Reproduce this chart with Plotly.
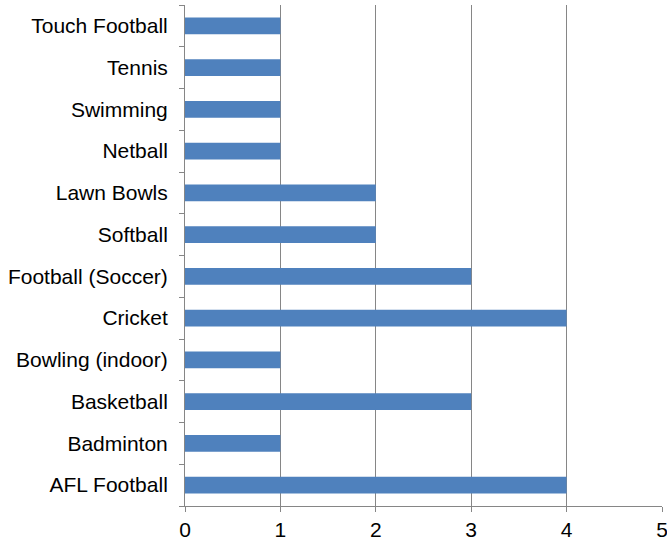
import plotly.graph_objects as go

# Sports, listed bottom to top
sports = [
    "AFL Football", "Badminton", "Basketball", "Bowling (indoor)", "Cricket",
    "Football (Soccer)", "Softball", "Lawn Bowls", "Netball", "Swimming",
    "Tennis", "Touch Football",
]
counts = [4, 1, 3, 1, 4, 3, 2, 2, 1, 1, 1, 1]
x_ticks = [0, 1, 2, 3, 4, 5]

bar_color = "#4F81BD"
axis_gray = "#868686"

fig = go.Figure(
    go.Bar(
        x=counts,
        y=sports,
        orientation="h",
        marker=dict(color=bar_color, line=dict(width=0)),
    )
)

fig.update_layout(
    width=667,
    height=541,
    margin=dict(l=185, r=5, t=5, b=35),
    paper_bgcolor="white",
    plot_bgcolor="white",
    bargap=0.6,
    showlegend=False,
    font=dict(family="Liberation Sans, Arial, sans-serif", size=21, color="#000000"),
)

fig.update_xaxes(
    range=[0, 5],
    tickvals=x_ticks,
    ticktext=[str(v) for v in x_ticks],
    ticklabeloverflow="allow",
    automargin=False,
    showgrid=True,
    gridcolor=axis_gray,
    gridwidth=1,
    zeroline=False,
    showline=True,
    linecolor=axis_gray,
    linewidth=1,
    ticks="outside",
    ticklen=5,
    tickcolor=axis_gray,
)

fig.update_yaxes(
    type="category",
    categoryorder="array",
    categoryarray=sports,
    tickson="boundaries",
    automargin=False,
    showgrid=False,
    zeroline=False,
    showline=True,
    linecolor=axis_gray,
    linewidth=1,
    ticks="outside",
    ticklen=5,
    tickcolor=axis_gray,
    ticklabelstandoff=12,
)

fig.write_html("out.html")
